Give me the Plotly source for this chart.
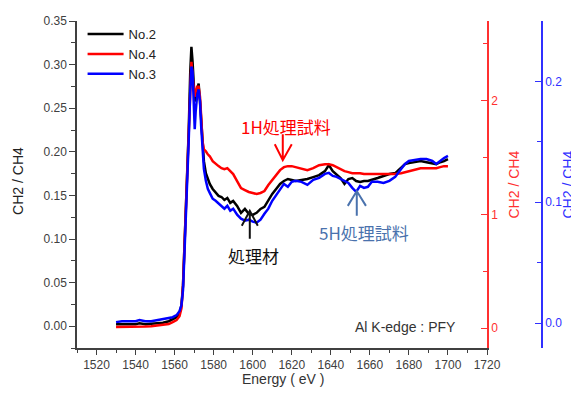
import plotly.graph_objects as go

energy = [1530, 1533, 1536, 1540, 1542, 1545, 1548, 1551, 1554, 1557, 1559, 1561, 1562.5, 1563.5,
          1564.3, 1565, 1565.8, 1566.5, 1567.2, 1568, 1568.6, 1569.2, 1569.8, 1570.3, 1570.8, 1571.5,
          1572.3, 1573, 1573.6, 1574.3, 1575, 1576, 1577, 1578, 1579.5, 1581, 1582.5, 1584, 1585.5,
          1587, 1588.5, 1590, 1592, 1594, 1596, 1598, 1600, 1602, 1604, 1606, 1608, 1610, 1612, 1614,
          1616, 1618, 1620, 1622, 1625, 1628, 1631, 1634, 1637, 1639, 1641, 1643, 1645, 1647, 1649,
          1651, 1653, 1655, 1657, 1659, 1661, 1664, 1667, 1670, 1673, 1676, 1678, 1680, 1683, 1686,
          1689, 1692, 1694, 1696, 1698, 1700]

no2 = [0.0023, 0.0023, 0.0023, 0.0023, 0.0034, 0.0023, 0.0029, 0.0034, 0.0040, 0.0057, 0.0080, 0.0103,
       0.0148, 0.0239, 0.0468, 0.0867, 0.1323, 0.1665, 0.2235, 0.2919, 0.3204, 0.3033, 0.2691, 0.2577,
       0.2634, 0.2714, 0.2782, 0.2577, 0.2349, 0.2064, 0.1893, 0.1756, 0.1688, 0.1631, 0.1574, 0.1528,
       0.1494, 0.1482, 0.1448, 0.1471, 0.1414, 0.1437, 0.1380, 0.1300, 0.1345, 0.1289, 0.1277, 0.1300,
       0.1345, 0.1368, 0.1448, 0.1517, 0.1574, 0.1631, 0.1665, 0.1688, 0.1676, 0.1665, 0.1676, 0.1688,
       0.1710, 0.1733, 0.1779, 0.1847, 0.1779, 0.1733, 0.1699, 0.1631, 0.1688, 0.1699, 0.1665, 0.1653,
       0.1665, 0.1665, 0.1676, 0.1699, 0.1722, 0.1745, 0.1756, 0.1824, 0.1859, 0.1870, 0.1881, 0.1893,
       0.1881, 0.1870, 0.1859, 0.1881, 0.1893, 0.1916]

no4 = [0.009, 0.009, 0.013, 0.013, 0.013, 0.013, 0.017, 0.022, 0.026, 0.035, 0.052, 0.070, 0.105, 0.175,
       0.376, 0.725, 1.074, 1.380, 1.817, 2.122, 2.341, 2.210, 2.096, 2.035, 2.079, 2.122, 2.122, 2.035,
       1.860, 1.642, 1.572, 1.555, 1.528, 1.511, 1.467, 1.441, 1.424, 1.406, 1.397, 1.406, 1.380, 1.354,
       1.293, 1.231, 1.214, 1.197, 1.188, 1.179, 1.188, 1.205, 1.258, 1.301, 1.345, 1.389, 1.415, 1.424,
       1.424, 1.415, 1.397, 1.389, 1.406, 1.432, 1.441, 1.441, 1.432, 1.415, 1.397, 1.380, 1.371, 1.362,
       1.362, 1.362, 1.354, 1.354, 1.354, 1.354, 1.354, 1.354, 1.354, 1.362, 1.371, 1.380, 1.397, 1.406,
       1.406, 1.406, 1.406, 1.415, 1.424, 1.424]

no3 = [0.0008, 0.0016, 0.0016, 0.0016, 0.0025, 0.0016, 0.0016, 0.0025, 0.0029, 0.0037, 0.0049, 0.0066,
       0.0099, 0.0148, 0.0272, 0.0560, 0.0889, 0.1136, 0.1506, 0.1918, 0.2123, 0.2082, 0.1835, 0.1605,
       0.1753, 0.1877, 0.1934, 0.1835, 0.1630, 0.1424, 0.1276, 0.1177, 0.1111, 0.1078, 0.1029, 0.1012,
       0.0988, 0.0963, 0.0947, 0.0971, 0.0930, 0.0947, 0.0897, 0.0864, 0.0848, 0.0856, 0.0840, 0.0831,
       0.0856, 0.0905, 0.0947, 0.1012, 0.1062, 0.1103, 0.1152, 0.1128, 0.1169, 0.1177, 0.1169, 0.1144,
       0.1185, 0.1202, 0.1235, 0.1243, 0.1218, 0.1210, 0.1193, 0.1177, 0.1160, 0.1119, 0.1086, 0.1136,
       0.1119, 0.1128, 0.1169, 0.1169, 0.1160, 0.1177, 0.1210, 0.1276, 0.1317, 0.1342, 0.1350, 0.1358,
       0.1358, 0.1342, 0.1317, 0.1342, 0.1366, 0.1383]

series_names = ["No.2", "No.4", "No.3"]
x_ticks = [1520, 1540, 1560, 1580, 1600, 1620, 1640, 1660, 1680, 1700, 1720]
left_ticks = [0.00, 0.05, 0.10, 0.15, 0.20, 0.25, 0.30, 0.35]
red_ticks = [0, 1, 2]
blue_ticks = [0.0, 0.1, 0.2]

AX = "#404040"
RED = "#ff0000"
BLUE = "#0000ff"
RED_AX = "#ff3030"
BLUE_AX = "#3030ff"
FONT = "Liberation Sans, Arial, sans-serif"
CJK = "Noto Sans CJK JP, sans-serif"

fig = go.Figure()
fig.add_trace(go.Scatter(x=energy, y=no2, name=series_names[0], mode="lines",
                         line=dict(color="#000000", width=2.5), yaxis="y"))
fig.add_trace(go.Scatter(x=energy, y=no4, name=series_names[1], mode="lines",
                         line=dict(color=RED, width=2.5), yaxis="y2"))
fig.add_trace(go.Scatter(x=energy, y=no3, name=series_names[2], mode="lines",
                         line=dict(color=BLUE, width=2.5), yaxis="y3"))

# page body has an 8px margin: figure is 571x388 placed at (8, 8)
PW = 465
dom = 410 / PW

fig.update_layout(
    width=571, height=388,
    margin=dict(l=69, r=571 - 69 - PW, t=11, b=388 - 11 - 329),
    paper_bgcolor="white", plot_bgcolor="white",
    font=dict(family=FONT, size=12, color="#333333"),
    showlegend=True,
    legend=dict(x=0.012, y=1.006, xanchor="left", yanchor="top",
                bgcolor="rgba(0,0,0,0)", font=dict(size=13, color="#222222"),
                itemwidth=36),
    xaxis=dict(domain=[0, dom], range=[1510, 1720], tickvals=x_ticks,
               showline=True, linecolor=AX, linewidth=1.5, ticks="outside",
               ticklen=5, tickcolor=AX, tickwidth=1.2, showgrid=False, zeroline=False,
               minor=dict(dtick=10, tick0=1510, ticks="outside", ticklen=3, tickcolor=AX),
               automargin=False, tickfont=dict(size=12, color="#404040")),
    yaxis=dict(range=[-0.025, 0.35], tickvals=left_ticks, tickformat=".2f",
               showline=True, linecolor=AX, linewidth=1.5, ticks="outside",
               ticklen=6, tickcolor=AX, tickwidth=1.2, showgrid=False, zeroline=False,
               minor=dict(dtick=0.025, ticks="outside", ticklen=4, tickcolor=AX),
               automargin=False, tickfont=dict(size=12, color="#404040")),
    yaxis2=dict(range=[-0.175, 2.70], tickvals=red_ticks, overlaying="y", side="right",
                anchor="x", showline=True, linecolor=RED_AX, linewidth=1.5,
                ticks="inside", ticklen=6, tickcolor=RED_AX, tickwidth=1.2,
                showgrid=False, zeroline=False,
                minor=dict(dtick=0.5, ticks="inside", ticklen=4, tickcolor=RED_AX),
                automargin=False, tickfont=dict(size=12, color=RED_AX)),
    yaxis3=dict(range=[-0.0206, 0.250], tickvals=blue_ticks, tickformat=".1f",
                overlaying="y", side="right", anchor="free", position=1.0,
                showline=True, linecolor=BLUE_AX, linewidth=1.5,
                ticks="inside", ticklen=6, tickcolor=BLUE_AX, tickwidth=1.2,
                showgrid=False, zeroline=False,
                minor=dict(dtick=0.05, ticks="inside", ticklen=4, tickcolor=BLUE_AX),
                automargin=False, tickfont=dict(size=12, color=BLUE_AX)),
)

annotations = [
    dict(text="CH2 / CH4", xref="paper", yref="paper", x=(18 - 77) / PW, y=0.511,
         xanchor="center", yanchor="middle",
         textangle=-90, showarrow=False, font=dict(size=14, color="#222222")),
    dict(text="CH2 / CH4", xref="paper", yref="paper", x=(513 - 77) / PW, y=0.50,
         xanchor="center", yanchor="middle",
         textangle=-90, showarrow=False, font=dict(size=14, color=RED_AX)),
    dict(text="CH2 / CH4", xref="paper", yref="paper", x=(567 - 77) / PW, y=0.50,
         xanchor="center", yanchor="middle",
         textangle=-90, showarrow=False, font=dict(size=14, color=BLUE_AX)),
    dict(text="Energy ( eV )", xref="paper", yref="paper", x=(283 - 77) / PW, y=-0.1246,
         showarrow=False, font=dict(size=14, color="#333333")),
    dict(text="1H処理試料", x=1617.2, y=0.2292, xref="x", yref="y", showarrow=False,
         font=dict(family=CJK, size=17, color=RED)),
    dict(text="5H処理試料", x=1656.9, y=0.1072, xref="x", yref="y", showarrow=False,
         font=dict(family=CJK, size=17, color="#4a72ad")),
    dict(text="処理材", x=1600.5, y=0.081, xref="x", yref="y", showarrow=False,
         font=dict(family=CJK, size=17, color="#111111")),
    dict(text="Al K-edge : PFY", x=1678.2, y=-0.001, xref="x", yref="y", showarrow=False,
         font=dict(size=14, color="#333333")),
]
fig.update_layout(annotations=annotations)

# arrows (open V heads) as path shapes
arrows = [
    ("M1615.4,0.220 L1615.4,0.1904 M1611.3,0.2087 L1615.4,0.1904 L1620.0,0.2087", RED),
    ("M1653.3,0.1266 L1653.3,0.155 M1648.7,0.138 L1653.3,0.155 L1658.0,0.138", "#4a72ad"),
    ("M1598.5,0.1003 L1598.5,0.1323 M1594.4,0.1152 L1598.5,0.1323 L1602.6,0.1152", "#111111"),
]
for p, c in arrows:
    fig.add_shape(type="path", path=p, xref="x", yref="y", line=dict(color=c, width=2))

fig.write_html("out.html")
